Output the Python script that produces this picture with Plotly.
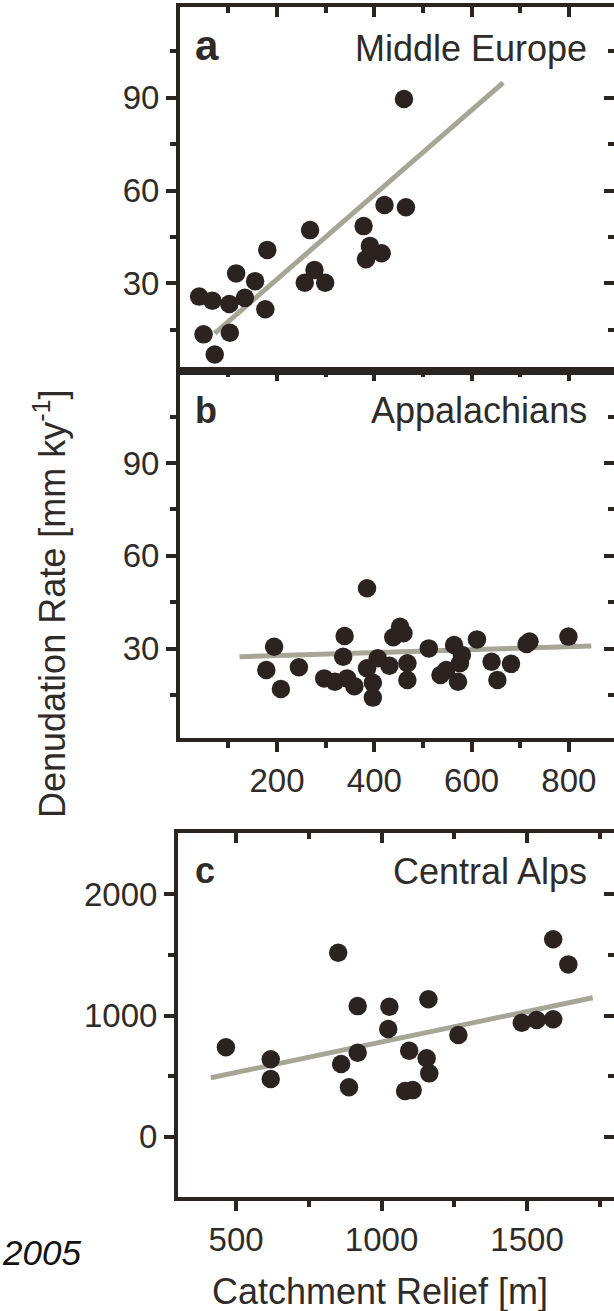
import plotly.graph_objects as go

# ---------------- data ----------------
# Panel a: Middle Europe
a_relief = [40, 67, 49, 72, 102, 103, 116, 134, 155, 176, 180, 257, 268, 277, 299,
            378, 383, 391, 415, 421, 461, 465]
a_rate = [25.7, 24.4, 13.5, 7.0, 23.3, 14.0, 33.2, 25.3, 30.7, 21.6, 40.8, 30.2, 47.2,
          34.3, 30.2, 48.5, 37.8, 42.1, 39.7, 55.3, 89.6, 54.6]
a_fit_x = [72, 665]
a_fit_y = [13.8, 94.9]

# Panel b: Appalachians
b_relief = [194, 178, 208, 245, 297, 319, 339, 336, 344, 359, 385, 385, 397, 397, 407,
            431, 439, 453, 460, 468, 468, 512, 536, 548, 564, 572, 576, 580, 611, 641,
            653, 681, 713, 719, 799]
b_rate = [30.6, 23.1, 17.0, 24.0, 20.4, 19.3, 34.1, 27.4, 20.4, 17.9, 49.5, 23.7, 19.0,
          14.2, 26.9, 24.5, 33.7, 37.1, 35.0, 25.3, 19.9, 30.1, 21.5, 23.1, 31.2, 19.3,
          25.3, 28.0, 33.0, 25.8, 19.9, 25.1, 31.5, 32.3, 33.9]
b_fit_x = [123, 846]
b_fit_y = [27.4, 30.9]

# Panel c: Central Alps
c_relief = [465, 619, 619, 851, 861, 888, 918, 918, 1027, 1023, 1095, 1081, 1107, 1155,
            1164, 1161, 1264, 1482, 1533, 1590, 1590, 1642]
c_rate = [738, 639, 476, 1518, 600, 408, 1078, 693, 1073, 889, 710, 377, 385, 647, 523,
          1134, 839, 941, 963, 969, 1629, 1422]
c_fit_x = [413, 1726]
c_fit_y = [487, 1147]

# ticks
ab_x_major = [200, 400, 600, 800]
ab_x_minor = [100, 300, 500, 700]
ab_y_major = [30, 60, 90]
ab_y_minor = [15, 45, 75, 105]
c_x_major = [500, 1000, 1500]
c_x_minor = [750, 1250, 1750]
c_y_major = [0, 1000, 2000]
c_y_minor = [500, 1500]

panel_letters = ["a", "b", "c"]
panel_names = ["Middle Europe", "Appalachians", "Central Alps"]

# ---------------- style ----------------
W, H = 614, 1311
FONT = "Liberation Sans, Arial, sans-serif"
INK = "#2b2522"
TXT = "#2f2b28"
FIT = "#a6a596"
DOT = "#2a2320"


def px_x(p):
    return p / W


def px_y(p):
    return 1 - p / H


fig = go.Figure()

panels = [
    dict(x=a_relief, y=a_rate, fx=a_fit_x, fy=a_fit_y, xdom=(180, 614), ydom=(7, 371),
         xr=[0.6, 892.7], yr=[1.65, 119.33], xmaj=ab_x_major, xmin=ab_x_minor,
         ymaj=ab_y_major, ymin=ab_y_minor, bottom_ticks=False),
    dict(x=b_relief, y=b_rate, fx=b_fit_x, fy=b_fit_y, xdom=(180, 614), ydom=(371, 738),
         xr=[0.6, 892.7], yr=[1.15, 119.7], xmaj=ab_x_major, xmin=ab_x_minor,
         ymaj=ab_y_major, ymin=ab_y_minor, bottom_ticks=True),
    dict(x=c_relief, y=c_rate, fx=c_fit_x, fy=c_fit_y, xdom=(178, 614), ydom=(833, 1197),
         xr=[300.3, 1799], yr=[-497, 2506], xmaj=c_x_major, xmin=c_x_minor,
         ymaj=c_y_major, ymin=c_y_minor, bottom_ticks=True),
]

layout_axes = {}
tickfont = dict(family=FONT, size=33, color=TXT)

for i, p in enumerate(panels):
    n = 2 * i + 1
    xa, ya = f"x{'' if n == 1 else n}", f"y{'' if n == 1 else n}"
    xo, yo = f"x{n + 1}", f"y{n + 1}"
    # fit line
    fig.add_trace(go.Scatter(x=p["fx"], y=p["fy"], mode="lines",
                             line=dict(color=FIT, width=5), xaxis=xa, yaxis=ya,
                             showlegend=False, hoverinfo="skip"))
    # points
    fig.add_trace(go.Scatter(x=p["x"], y=p["y"], mode="markers",
                             marker=dict(size=18.5, color=DOT, line=dict(width=0)),
                             xaxis=xa, yaxis=ya, showlegend=False))
    # empty trace on the mirror axes so they are drawn
    fig.add_trace(go.Scatter(x=[None], y=[None], mode="markers", xaxis=xo, yaxis=yo,
                             showlegend=False, hoverinfo="skip"))

    xdom = [px_x(p["xdom"][0]), px_x(p["xdom"][1])]
    ydom = [px_y(p["ydom"][1]), px_y(p["ydom"][0])]
    xk = "xaxis" if n == 1 else f"xaxis{n}"
    yk = "yaxis" if n == 1 else f"yaxis{n}"

    layout_axes[xk] = dict(
        domain=xdom, range=p["xr"], anchor=ya, showgrid=False, zeroline=False,
        showline=True, linewidth=4, linecolor=INK,
        ticks="outside" if p["bottom_ticks"] else "",
        tickvals=p["xmaj"], ticktext=[str(v) for v in p["xmaj"]],
        showticklabels=p["bottom_ticks"], ticklen=10, tickwidth=4, tickcolor=INK,
        tickfont=tickfont,
        minor=dict(tickvals=p["xmin"], ticks="outside" if p["bottom_ticks"] else "",
                   ticklen=6, tickwidth=4, tickcolor=INK, showgrid=False),
    )
    layout_axes[f"xaxis{n + 1}"] = dict(
        overlaying=xa, side="top", anchor=ya, range=p["xr"], showgrid=False,
        zeroline=False, showline=True, linewidth=4, linecolor=INK,
        ticks="inside", tickvals=p["xmaj"], showticklabels=False, ticklen=10,
        tickwidth=4, tickcolor=INK,
        minor=dict(tickvals=p["xmin"], ticks="inside", ticklen=6, tickwidth=4,
                   tickcolor=INK, showgrid=False),
    )
    layout_axes[yk] = dict(
        domain=ydom, range=p["yr"], anchor=xa, showgrid=False, zeroline=False,
        showline=True, linewidth=4, linecolor=INK, ticks="outside",
        tickvals=p["ymaj"], ticktext=[str(v) for v in p["ymaj"]],
        ticklen=10, tickwidth=4, tickcolor=INK, tickfont=tickfont,
        minor=dict(tickvals=p["ymin"], ticks="outside", ticklen=6, tickwidth=4,
                   tickcolor=INK, showgrid=False),
    )
    layout_axes[f"yaxis{n + 1}"] = dict(
        overlaying=ya, side="right", anchor=xa, range=p["yr"], showgrid=False,
        zeroline=False, showline=False, ticks="inside", tickvals=p["ymaj"],
        showticklabels=False, ticklen=10, tickwidth=4, tickcolor=INK,
        minor=dict(tickvals=p["ymin"], ticks="inside", ticklen=6, tickwidth=4,
                   tickcolor=INK, showgrid=False),
    )

annotations = []
letter_base = [60, 423, 883]
letter_size = [42, 36, 36]
name_base = [61, 423, 884]
for i in range(3):
    annotations.append(dict(
        text=f"<b>{panel_letters[i]}</b>", xref="paper", yref="paper",
        x=px_x(193), y=px_y(letter_base[i] - letter_size[i] * 0.347),
        xanchor="left", yanchor="middle",
        showarrow=False, font=dict(family=FONT, size=letter_size[i], color=TXT)))
    annotations.append(dict(
        text=panel_names[i], xref="paper", yref="paper",
        x=px_x(589), y=px_y(name_base[i] - 12.5), xanchor="right", yanchor="middle",
        showarrow=False, font=dict(family=FONT, size=36, color=TXT)))

annotations.append(dict(
    text="Denudation Rate [mm ky<sup>-1</sup>]", xref="paper", yref="paper",
    x=px_x(50), y=px_y(604), xanchor="center", yanchor="middle", textangle=-90,
    showarrow=False, font=dict(family=FONT, size=36, color=TXT)))
annotations.append(dict(
    text="Catchment Relief [m]", xref="paper", yref="paper",
    x=px_x(380), y=px_y(1291), xanchor="center", yanchor="middle",
    showarrow=False, font=dict(family=FONT, size=36, color=TXT)))
annotations.append(dict(
    text="<i>2005</i>", xref="paper", yref="paper",
    x=px_x(0), y=px_y(1252.5), xanchor="left", yanchor="middle",
    showarrow=False, font=dict(family=FONT, size=35, color="#111111")))

fig.update_layout(
    width=W, height=H, margin=dict(l=0, r=0, t=0, b=0, pad=0),
    paper_bgcolor="white", plot_bgcolor="white", showlegend=False,
    annotations=annotations, **layout_axes,
)

fig.write_html("out.html")
